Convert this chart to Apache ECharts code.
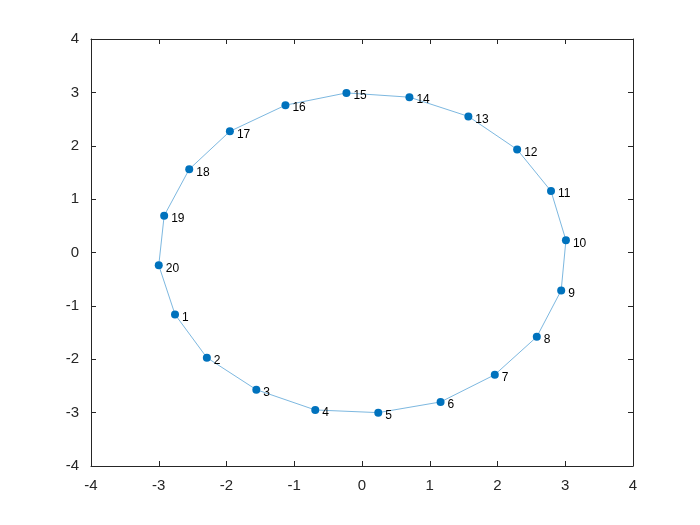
<!DOCTYPE html>
<html>
<head>
<meta charset="utf-8">
<script src="https://cdn.jsdelivr.net/npm/echarts@6/dist/echarts.min.js"></script>
<style>
  html, body { margin: 0; padding: 0; background: #fff; }
  #main { width: 700px; height: 525px; }
</style>
</head>
<body>
<div id="main"></div>
<script>
// point numbers and their positions
var pointLabels = ['1', '2', '3', '4', '5', '6', '7', '8', '9', '10',
    '11', '12', '13', '14', '15', '16', '17', '18', '19', '20'];
var xValues = [-2.76, -2.29, -1.56, -0.69, 0.24, 1.16, 1.96, 2.58, 2.94, 3.01,
    2.79, 2.29, 1.57, 0.70, -0.23, -1.13, -1.95, -2.55, -2.92, -3.00];
var yValues = [-1.16, -1.97, -2.57, -2.95, -3.00, -2.80, -2.29, -1.58, -0.71, 0.23,
    1.15, 1.93, 2.55, 2.91, 2.99, 2.76, 2.27, 1.56, 0.69, -0.24];

var pts = xValues.map(function (x, i) {
    return [x, yValues[i], pointLabels[i]];
});
// closed outline: back to the first point
var loop = pts.concat([pts[0]]);

var axisLine = { show: true, onZero: false, lineStyle: { color: '#262626', width: 1 } };
var axisTick = { show: true, inside: true, length: 5, lineStyle: { color: '#262626' } };

function mainAxis(pos) {
    return {
        type: 'value', position: pos, min: -4, max: 4, interval: 1,
        axisLine: axisLine, axisTick: axisTick, splitLine: { show: false },
        axisLabel: { color: '#262626', fontSize: 15, fontFamily: 'Arial, Liberation Sans', margin: 12 }
    };
}
function sideAxis(pos) {
    return {
        type: 'value', position: pos, min: -4, max: 4, interval: 1,
        axisLine: axisLine, axisTick: axisTick, splitLine: { show: false },
        axisLabel: { show: false }
    };
}

var chart = echarts.init(document.getElementById('main'));
chart.setOption({
    backgroundColor: '#fff',
    animation: false,
    grid: { left: 91, right: 67, top: 39, bottom: 59 },
    xAxis: [mainAxis('bottom'), sideAxis('top')],
    yAxis: [mainAxis('left'), sideAxis('right')],
    series: [
        {
            type: 'line',
            data: loop,
            showSymbol: false,
            symbol: 'none',
            lineStyle: { color: '#7DB8E0', width: 1 },
            z: 1
        },
        {
            type: 'scatter',
            data: pts,
            symbol: 'circle',
            symbolSize: 8,
            itemStyle: { color: '#0072BD', opacity: 1 },
            z: 2,
            label: {
                show: true,
                position: 'right',
                distance: 3,
                offset: [0, 3],
                formatter: function (p) { return p.value[2]; },
                color: '#000',
                fontSize: 12,
                fontFamily: 'Arial, Liberation Sans'
            }
        }
    ]
});
</script>
</body>
</html>
